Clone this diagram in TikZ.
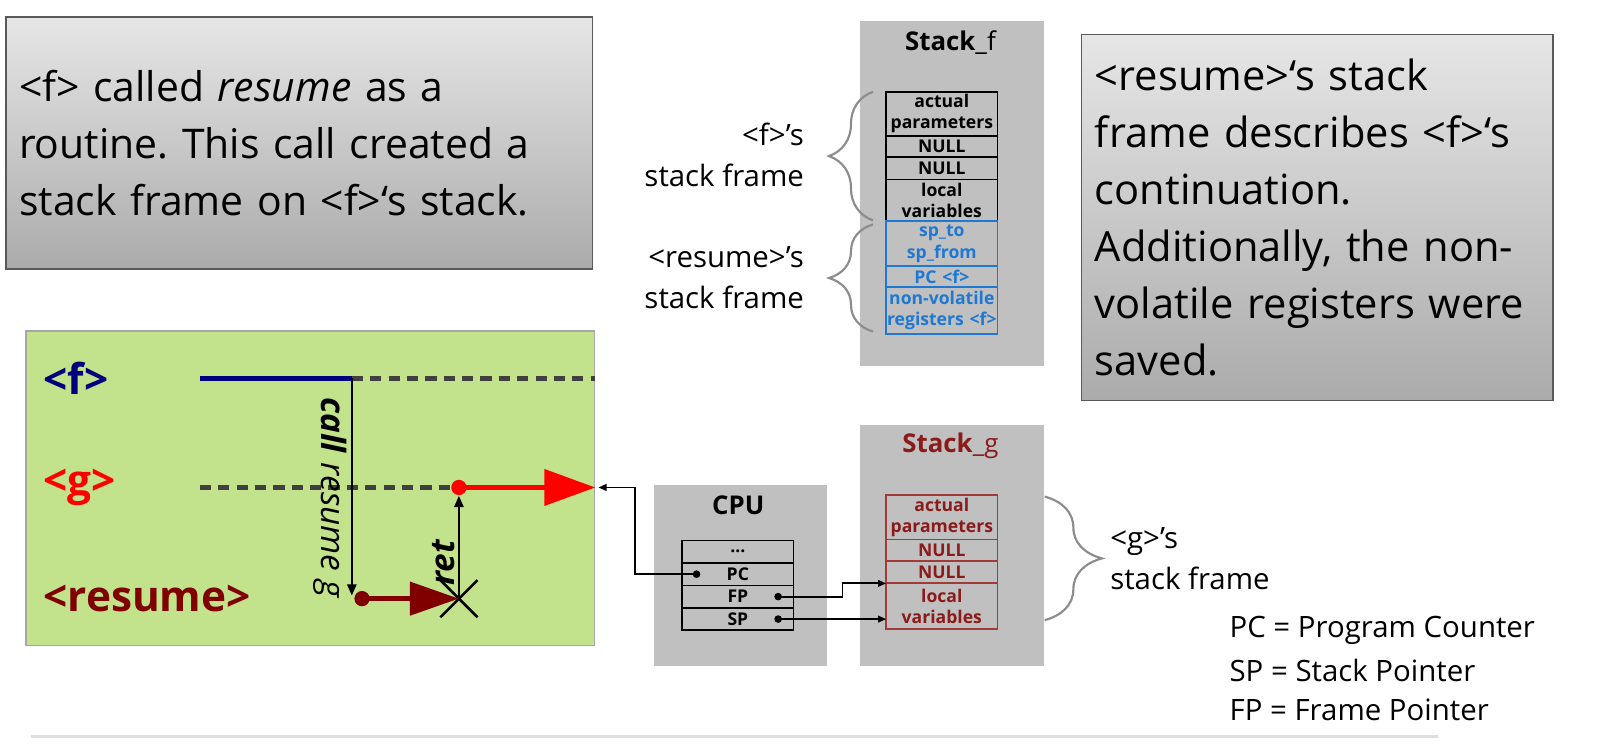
\documentclass[tikz,border=0pt]{standalone}
\usepackage{fontspec}
\setmainfont{Open Sans}
\frenchspacing
\usetikzlibrary{positioning,arrows.meta,decorations.pathreplacing,shapes.misc}

\definecolor{panel-color}{HTML}{C0C0C0}
\definecolor{note-top-color}{HTML}{E6E6E6}
\definecolor{note-bottom-color}{HTML}{ABABAB}
\definecolor{resume-frame-color}{HTML}{1F78D1}
\definecolor{g-frame-color}{HTML}{A33A3A}
\definecolor{g-text-color}{HTML}{8B1A1A}
\definecolor{f-color}{HTML}{00007F}
\definecolor{resume-color}{HTML}{800000}
\definecolor{timeline-color}{HTML}{C2E38B}
\definecolor{dash-color}{HTML}{404040}
\definecolor{brace-color}{HTML}{8C8C8C}

\begin{document}
\begin{tikzpicture}[x=0.01cm, y=-0.01cm,
note/.style={draw=black!65, top color=note-top-color, bottom color=note-bottom-color, anchor=north west, inner xsep=0.13cm, align=left, font=\fontsize{11.6}{15.9}\selectfont},
panel/.style={fill=panel-color, anchor=north west, inner sep=0pt},
panel title/.style={font=\fontsize{7.2}{8}\selectfont},
cell/.style={draw=black, rectangle, text width=1.09cm, align=center, inner sep=0pt, outer sep=0pt, line width=0.5pt, font=\fontsize{4.9}{5.9}\selectfont\bfseries},
rcell/.style={cell, draw=resume-frame-color, text=resume-frame-color},
gcell/.style={cell, draw=g-frame-color, text=g-text-color},
reg/.style={cell, minimum height=0.22cm},
side/.style={inner sep=0pt, font=\fontsize{8.2}{11.3}\selectfont},
routine/.style={anchor=west, inner sep=0pt, font=\fontsize{11.8}{12}\selectfont\bfseries},
dot/.style={circle, inner sep=0pt, minimum size=0.15cm},
regdot/.style={circle, fill=black, inner sep=0pt, minimum size=0.075cm},
dashline/.style={dash-color, line width=1.2pt, dash pattern=on 0.11cm off 0.07cm},
link/.style={line width=0.5pt, -{Triangle[length=0.08cm, width=0.065cm]}},
jump/.style={line width=0.6pt, -{Triangle[length=0.11cm, width=0.09cm]}},
curly/.style={brace-color, line width=0.6pt, decorate, decoration={brace, amplitude=#1}}]

\useasboundingbox (0,0) rectangle (1566,741);

% notes
\node[note, minimum width=5.75cm, minimum height=2.47cm, text width=5.49cm, font=\fontsize{11.4}{15.9}\selectfont] (call-note) at (5,16)
  {<f> called \textit{resume} as a\\routine. This call created a\\stack frame on <f>‘s stack.};
\node[note, minimum width=4.62cm, minimum height=3.59cm, text width=4.36cm] (frame-note) at (1060,33)
  {<resume>‘s stack\\frame describes <f>‘s\\continuation.\\Additionally, the non-\\volatile registers were\\saved.};

% stack of f
\node[panel, minimum width=1.80cm, minimum height=3.38cm] (stack-f) at (843,20) {};
\node[panel title] (stack-f-title) at (932,42) {\textbf{Stack}\_f};
\node[cell, minimum height=0.43cm, anchor=north west] (f-params) at (869,90) {actual\\parameters};
\node[cell, minimum height=0.21cm, below=0pt of f-params] (f-null-1) {NULL};
\node[cell, minimum height=0.22cm, below=0pt of f-null-1] (f-null-2) {NULL};
\node[cell, minimum height=0.41cm, below=0pt of f-null-2] (f-locals) {local\\variables};
\node[rcell, minimum height=0.44cm, below=0pt of f-locals] (r-sp) {sp\_to\\sp\_from};
\node[rcell, minimum height=0.20cm, below=0pt of r-sp] (r-pc) {PC <f>};
\node[rcell, minimum height=0.46cm, below=0pt of r-pc] (r-regs) {non-volatile\\registers <f>};

\draw[curly=0.43cm] ([xshift=-0.13cm, yshift=0.01cm]f-locals.south west) -- ([xshift=-0.13cm]f-params.north west);
\draw[curly=0.43cm] ([xshift=-0.13cm, yshift=0.02cm]r-regs.south west) -- ([xshift=-0.13cm, yshift=-0.03cm]r-sp.north west);
\node[side, anchor=east, align=right] (f-frame-label) at (789,152) {<f>’s\\stack frame};
\node[side, anchor=east, align=right] (r-frame-label) at (789,272) {<resume>’s\\stack frame};

% timelines
\node[panel, fill=timeline-color, draw=black!35, minimum width=5.57cm, minimum height=3.08cm] (timeline) at (25,324) {};
\node[routine, text=f-color] (f-name) at (42,371) {<f>};
\node[routine, text=red] (g-name) at (42,478) {<g>};
\node[routine, text=resume-color] (r-name) at (42,587) {<resume>};

\coordinate (f-start) at (196,371);
\coordinate (f-call) at (345,371);
\coordinate (f-end) at (timeline.east |- f-call);
\coordinate (g-start) at (196,478);
\coordinate (call-end) at (345,584);
\node[dot, fill=resume-color] (r-dot) at (355,587) {};
\node[cross out, draw, line width=0.7pt, minimum size=0.34cm, inner sep=0pt] (r-x) at (450,587) {};
\node[dot, fill=red] (g-dot) at (450,478) {};
\coordinate (g-end) at (timeline.east |- g-dot);

\draw[f-color, line width=1.5pt] (f-start) -- (f-call);
\draw[dashline] (f-call) -- (f-end);
\draw[dashline] (g-start) -- (g-dot);
\draw[jump] (f-call) -- (call-end)
  node[pos=0.55, rotate=-90, anchor=north, inner sep=0.04cm, font=\fontsize{9.3}{10}\selectfont] {\textbf{\textit{call}} \textit{resume g}};
\draw[resume-color, line width=1.5pt, -{Triangle[length=0.48cm, width=0.32cm]}] (r-dot.center) -- (r-x.center);
\draw[jump] (r-x.center) -- (g-dot.south)
  node[pos=0.35, rotate=90, anchor=south, inner sep=0.03cm, font=\fontsize{9.3}{10}\selectfont] {\textbf{\textit{ret}}};
\draw[red, line width=1.4pt, -{Triangle[length=0.5cm, width=0.35cm]}] (g-dot.center) -- (g-end);

% cpu
\node[panel, minimum width=1.69cm, minimum height=1.77cm] (cpu) at (641,475) {};
\node[panel title] (cpu-title) at (724,495) {\textbf{CPU}};
\node[reg, anchor=north west] (cpu-more) at (669,530) {...};
\node[reg, below=0pt of cpu-more] (cpu-pc) {PC};
\node[reg, below=0pt of cpu-pc] (cpu-fp) {FP};
\node[reg, below=0pt of cpu-fp] (cpu-sp) {SP};
\node[regdot] (pc-dot) at ([xshift=0.14cm]cpu-pc.west) {};
\node[regdot] (fp-dot) at ([xshift=-0.15cm]cpu-fp.east) {};
\node[regdot] (sp-dot) at ([xshift=-0.15cm]cpu-sp.east) {};

% stack of g
\node[panel, minimum width=1.80cm, minimum height=2.36cm] (stack-g) at (843,416) {};
\node[panel title, text=g-text-color] (stack-g-title) at (932,437) {\textbf{Stack}\_g};
\node[gcell, minimum height=0.44cm, anchor=north west] (g-params) at (869,485) {actual\\parameters};
\node[gcell, minimum height=0.21cm, below=0pt of g-params] (g-null-1) {NULL};
\node[gcell, minimum height=0.22cm, below=0pt of g-null-1] (g-null-2) {NULL};
\node[gcell, minimum height=0.45cm, below=0pt of g-null-2] (g-locals) {local\\variables};

\draw[link] (pc-dot.center) -- ++(-60,0) |- ([xshift=0.03cm]g-end);
\draw[link] (fp-dot.center) -- ++(63,0) |- (g-locals.north west);
\draw[link] (sp-dot.center) -- (sp-dot -| g-locals.west);

\coordinate (g-brace-top) at (stack-g.east |- g-params.north);
\coordinate (g-brace-bottom) at (stack-g.east |- g-locals.south);
\draw[curly=0.56cm] ([yshift=-0.02cm]g-brace-top) -- ([yshift=0.09cm]g-brace-bottom);
\node[side, anchor=west, align=left] (g-frame-label) at (1088,548) {<g>’s\\stack frame};

% legend
\node[side, anchor=west] (pc-legend) at (1205,618) {PC = Program Counter};
\node[side, anchor=west] (sp-legend) at (1205,657) {SP = Stack Pointer};
\node[side, anchor=west] (fp-legend) at (1205,696) {FP = Frame Pointer};

\draw[black!13, line width=0.7pt] (30,722) -- (1410,722);

\end{tikzpicture}
\end{document}
